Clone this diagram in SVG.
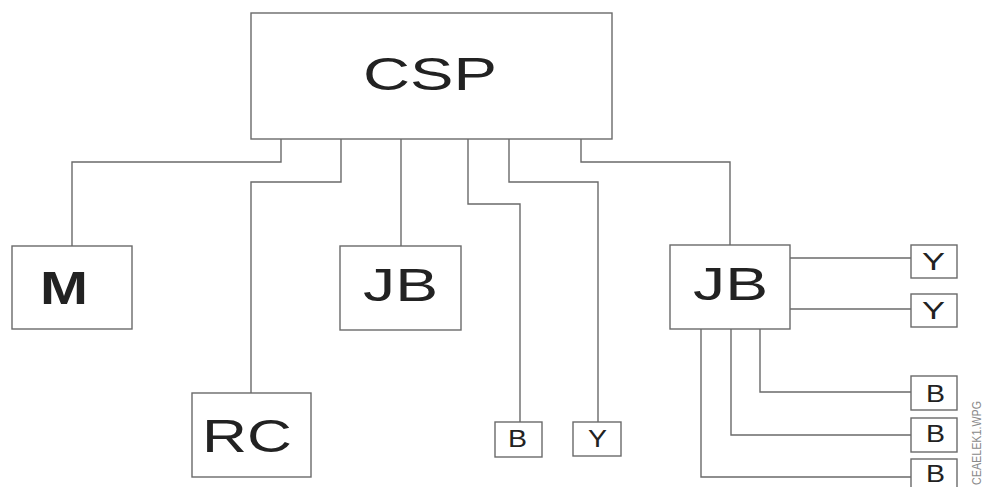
<svg xmlns="http://www.w3.org/2000/svg" width="987" height="487" viewBox="0 0 987 487">
  <style>
    .box { fill: #ffffff; stroke: #6a6a6a; stroke-width: 1.4; }
    .wire { fill: none; stroke: #6a6a6a; stroke-width: 1.4; }
    .lbl { font-family: "Liberation Sans", Arial, sans-serif; fill: #222222; }
    .big { font-size: 47px; }
    .small { font-size: 24px; }
    .tag { font-family: "Liberation Sans", Arial, sans-serif; font-size: 12px; fill: #8a8a8a; }
  </style>

  <rect x="0" y="0" width="987" height="487" fill="#ffffff"/>

  <!-- wiring between panels -->
  <g id="connectors">
    <polyline class="wire" points="281,139 281,162 72,162 72,246"/>
    <polyline class="wire" points="341,139 341,182 251,182 251,393"/>
    <polyline class="wire" points="401,139 401,246"/>
    <polyline class="wire" points="468,139 468,204 520,204 520,422"/>
    <polyline class="wire" points="509,139 509,182 598,182 598,422"/>
    <polyline class="wire" points="581,139 581,162 730,162 730,245"/>
    <polyline class="wire" points="790,258 911,258"/>
    <polyline class="wire" points="790,309 911,309"/>
    <polyline class="wire" points="760,329 760,392 911,392"/>
    <polyline class="wire" points="731,329 731,435 911,435"/>
    <polyline class="wire" points="701,329 701,477 911,477"/>
  </g>

  <g id="csp">
    <rect class="box" x="251" y="13" width="361" height="126"/>
    <text class="lbl big" x="363" y="90" textLength="134" lengthAdjust="spacingAndGlyphs">CSP</text>
  </g>

  <g id="m">
    <rect class="box" x="12" y="246" width="120" height="83"/>
    <text class="lbl big" x="40" y="304" font-weight="bold" font-size="45" textLength="48" lengthAdjust="spacingAndGlyphs">M</text>
  </g>

  <g id="rc">
    <rect class="box" x="192" y="393" width="119" height="84"/>
    <text class="lbl big" x="202" y="452" textLength="90" lengthAdjust="spacingAndGlyphs">RC</text>
  </g>

  <g id="jb-main">
    <rect class="box" x="340" y="246" width="121" height="84"/>
    <text class="lbl big" x="363" y="301" textLength="75" lengthAdjust="spacingAndGlyphs">JB</text>
  </g>

  <g id="b-main">
    <rect class="box" x="495" y="422" width="47" height="35"/>
    <text class="lbl small" x="508" y="447" textLength="19" lengthAdjust="spacingAndGlyphs">B</text>
  </g>

  <g id="y-main">
    <rect class="box" x="573" y="422" width="48" height="34"/>
    <text class="lbl small" x="588" y="447" textLength="19" lengthAdjust="spacingAndGlyphs">Y</text>
  </g>

  <g id="jb-sub">
    <rect class="box" x="670" y="245" width="120" height="84"/>
    <text class="lbl big" x="693" y="300" textLength="75" lengthAdjust="spacingAndGlyphs">JB</text>
  </g>

  <g id="y-sub1">
    <rect class="box" x="911" y="245" width="46" height="33"/>
    <text class="lbl small" x="922" y="270" textLength="23" lengthAdjust="spacingAndGlyphs">Y</text>
  </g>

  <g id="y-sub2">
    <rect class="box" x="911" y="294" width="46" height="33"/>
    <text class="lbl small" x="922" y="319" textLength="23" lengthAdjust="spacingAndGlyphs">Y</text>
  </g>

  <g id="b-sub1">
    <rect class="box" x="911" y="376" width="46" height="34"/>
    <text class="lbl small" x="926" y="402" textLength="19" lengthAdjust="spacingAndGlyphs">B</text>
  </g>

  <g id="b-sub2">
    <rect class="box" x="911" y="418" width="46" height="34"/>
    <text class="lbl small" x="926" y="442" textLength="19" lengthAdjust="spacingAndGlyphs">B</text>
  </g>

  <g id="b-sub3">
    <rect class="box" x="911" y="459" width="46" height="34"/>
    <text class="lbl small" x="926" y="482" font-size="22" textLength="19" lengthAdjust="spacingAndGlyphs">B</text>
  </g>

  <!-- drawing file tag along the right margin -->
  <text class="tag" transform="translate(981,485) rotate(-90)" textLength="84" lengthAdjust="spacingAndGlyphs">CEAELEK1.WPG</text>
</svg>
